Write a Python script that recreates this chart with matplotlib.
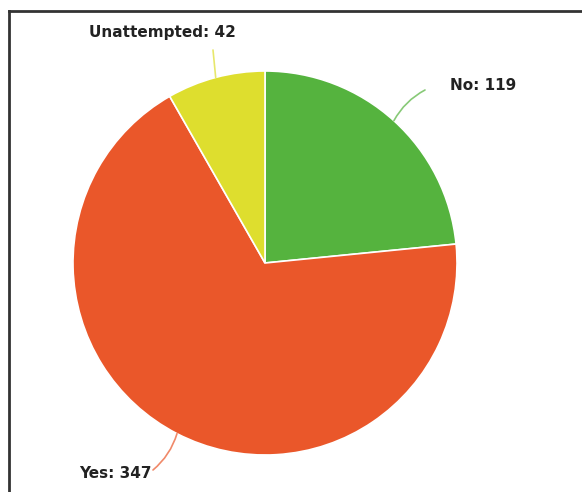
import numpy as np
import matplotlib.pyplot as plt
from matplotlib.lines import Line2D

# Answer counts
labels = ['No', 'Yes', 'Unattempted']
counts = [119, 347, 42]
colors = ['#55b33e', '#ea572a', '#dede2e']

W, H = 582, 492
fig = plt.figure(figsize=(W / 100, H / 100), dpi=100)
ax = fig.add_axes([0, 0, 1, 1])

cx, cy, r = 265, H - 263, 192
wedges, _ = ax.pie(counts, colors=colors, startangle=90, counterclock=False,
                   center=(cx, cy), radius=r, frame=True,
                   wedgeprops=dict(edgecolor='white', linewidth=1.2))
ax.set_xlim(0, W)
ax.set_ylim(0, H)
ax.set_aspect('equal')
ax.axis('off')

# label positions (text anchor, leader end, curvature)
text_pos = [(450, H - 86, 'left'), (152, H - 474, 'right'), (236, H - 33, 'right')]
line_end = [(425, H - 90), (153, H - 470), (213, H - 50)]
rads = [0.15, 0.15, 0.0]

for w, lab, n, col, tp, le, rad in zip(wedges, labels, counts, colors,
                                       text_pos, line_end, rads):
    ang = np.deg2rad((w.theta1 + w.theta2) / 2)
    edge = (cx + r * np.cos(ang), cy + r * np.sin(ang))
    ax.annotate('', xy=edge, xytext=le,
                arrowprops=dict(arrowstyle='-', color=col, lw=1.2, alpha=0.7,
                                shrinkA=0, shrinkB=0,
                                connectionstyle=f'arc3,rad={rad}'))
    ax.text(tp[0], tp[1], f'{lab}: {n}', ha=tp[2], va='center',
            fontsize=11, fontweight='bold', color='#222222',
            family='DejaVu Sans')

# partial frame around the picture
fig.add_artist(Line2D([9 / W, 1], [1 - 11 / H] * 2, color='#333333', lw=2))
fig.add_artist(Line2D([9 / W] * 2, [0, 1 - 11 / H], color='#333333', lw=2))

fig.savefig('out.png', dpi=100, facecolor='white')
